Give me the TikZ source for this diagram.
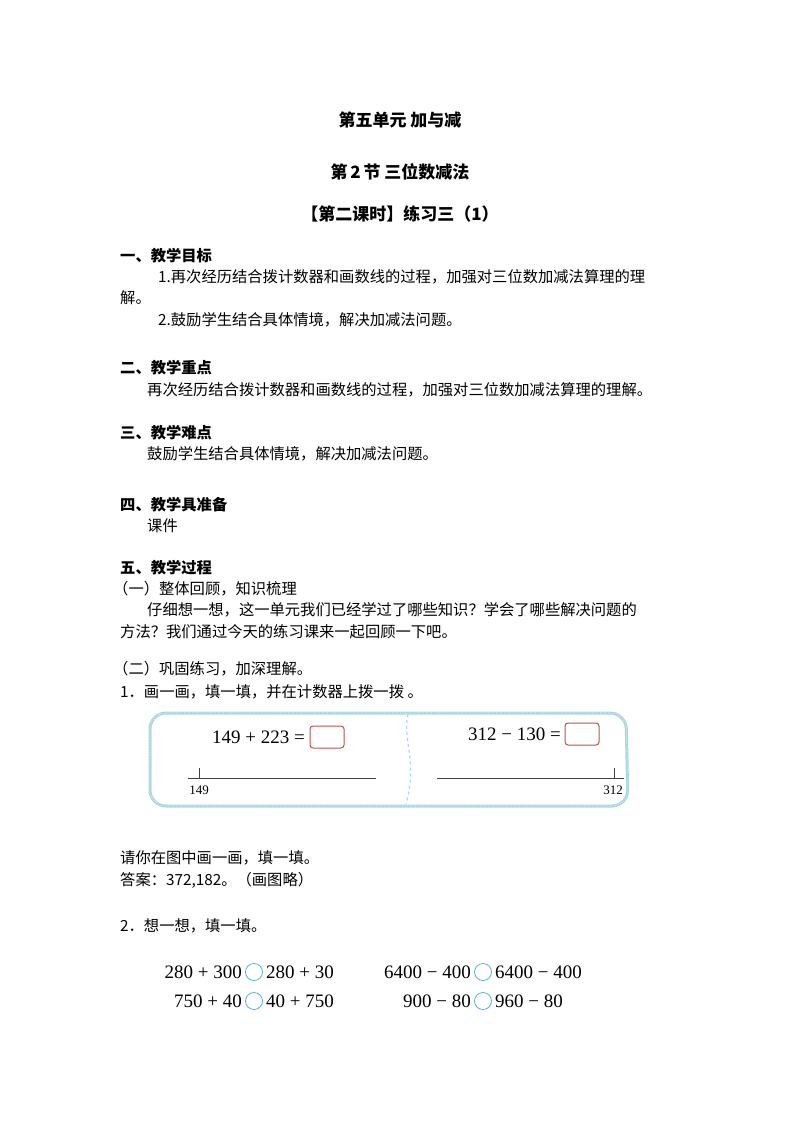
\documentclass[tikz,border=0pt]{standalone}
\usepackage{fontspec}
\setmainfont{Liberation Serif}
\newfontfamily\cjk{Noto Sans CJK SC}
\definecolor{lb}{HTML}{A9D7EA}
\definecolor{rb}{HTML}{C0504D}
\definecolor{cb}{HTML}{4FB3D9}
\begin{document}
\begin{tikzpicture}[x=1pt,y=-1pt,
  tx/.style={anchor=west,inner sep=0pt,font=\cjk\fontsize{15.3}{17}\selectfont},
  hd/.style={anchor=west,inner sep=0pt,font=\cjk\bfseries\fontsize{15.3}{17}\selectfont},
  tt/.style={inner sep=0pt,font=\cjk\bfseries\fontsize{17}{19}\selectfont},
  eq/.style={inner sep=0pt,font=\fontsize{19}{21}\selectfont},
  eqb/.style={anchor=east,inner sep=0pt,font=\fontsize{19}{21}\selectfont},
  eqa/.style={anchor=west,inner sep=0pt,font=\fontsize{19}{21}\selectfont},
  ans/.style={draw=rb,line width=1pt,rounded corners=3pt,minimum width=34pt,minimum height=22pt,inner sep=0pt},
  cir/.style={draw=cb,line width=0.8pt,circle,minimum size=17pt,inner sep=0pt}]
\useasboundingbox (0,0) rectangle (800,1132);
\node[tt] (t1) at (400,120) {第五单元\ 加与减};
\node[tt] (t2) at (400,172) {第\,2\,节\ 三位数减法};
\node[tt] (t3) at (400,214) {【第二课时】练习三（1）};
\node[hd] (h1) at (120,256) {一、教学目标};
\node[tx] (a1) at (158,277) {1.再次经历结合拨计数器和画数线的过程，加强对三位数加减法算理的理};
\node[tx] (a2) at (120,298) {解。};
\node[tx] (a3) at (158,320) {2.鼓励学生结合具体情境，解决加减法问题。};
\node[hd] (h2) at (120,368) {二、教学重点};
\node[tx] (b1) at (147,390) {再次经历结合拨计数器和画数线的过程，加强对三位数加减法算理的理解。};
\node[hd] (h3) at (120,433) {三、教学难点};
\node[tx] (c1) at (147,454) {鼓励学生结合具体情境，解决加减法问题。};
\node[hd] (h4) at (120,505) {四、教学具准备};
\node[tx] (d1) at (147,526) {课件};
\node[hd] (h5) at (120,568) {五、教学过程};
\node[tx] (e1) at (113,589) {（一）整体回顾，知识梳理};
\node[tx] (e2) at (147,610) {仔细想一想，这一单元我们已经学过了哪些知识？学会了哪些解决问题的};
\node[tx] (e3) at (120,632) {方法？我们通过今天的练习课来一起回顾一下吧。};
\node[tx] (e4) at (113,669) {（二）巩固练习，加深理解。};
\node[tx] (e5) at (120,692) {1．画一画，填一填，并在计数器上拨一拨\ 。};
% box
\draw[lb,line width=3pt,rounded corners=16pt]
  (150,713) -- (626,713) -- (628,806) -- (150,806) -- cycle;
\draw[white,line width=0.6pt,dotted,rounded corners=16pt]
  (150,713) -- (626,713) -- (628,806) -- (150,806) -- cycle;
\draw[lb,line width=1.2pt,dashed] (408,714) .. controls (402,740) and (418,760) .. (406,804);
\node[eq,anchor=east] (q1) at (305,737) {149 + 223 =};
\node[ans] (r1) at (327,737) {};
\node[eq,anchor=east] (q2) at (561,734) {312 − 130 =};
\node[ans] (r2) at (582,734) {};
\coordinate (l1a) at (188,778); \coordinate (l1b) at (376,778);
\draw[line width=1pt,black!75] (l1a) -- (l1b);
\draw[black!75] (199,778) -- (199,768);
\node[inner sep=0pt,font=\fontsize{13}{14}\selectfont] (n1) at (199,790) {149};
\coordinate (l2a) at (437,778); \coordinate (l2b) at (624,778);
\draw[line width=1pt,black!75] (l2a) -- (l2b);
\draw[black!75] (614,778) -- (614,768);
\node[inner sep=0pt,font=\fontsize{13}{14}\selectfont] (n2) at (613,790) {312};
\node[tx] (f1) at (120,858) {请你在图中画一画，填一填。};
\node[tx] (f2) at (120,880) {答案：372,182。（画图略）};
\node[tx] (f3) at (120,926) {2．想一想，填一填。};
\node[cir] (o1) at (254,972) {};
\node[eqb] at (o1.west) [xshift=-3pt] {280 + 300};
\node[eqa] at (o1.east) [xshift=3pt] {280 + 30};
\node[cir] (o2) at (254,1001) {};
\node[eqb] at (o2.west) [xshift=-3pt] {750 + 40};
\node[eqa] at (o2.east) [xshift=3pt] {40 + 750};
\node[cir] (o3) at (483,972) {};
\node[eqb] at (o3.west) [xshift=-3pt] {6400 − 400};
\node[eqa] at (o3.east) [xshift=3pt] {6400 − 400};
\node[cir] (o4) at (483,1001) {};
\node[eqb] at (o4.west) [xshift=-3pt] {900 − 80};
\node[eqa] at (o4.east) [xshift=3pt] {960 − 80};
\end{tikzpicture}
\end{document}
